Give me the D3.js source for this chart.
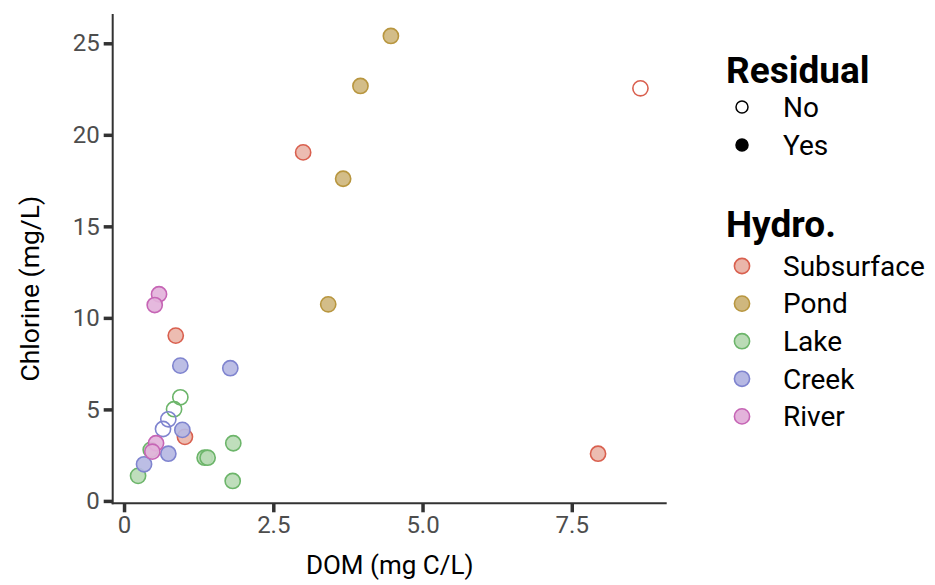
<!DOCTYPE html>
<html>
<head>
<meta charset="utf-8">
<script src="https://cdn.jsdelivr.net/npm/d3@7"></script>
<style>
  html, body { margin: 0; padding: 0; background: #fff; }
  svg text { font-family: Roboto, "Noto Sans", sans-serif; }
</style>
</head>
<body>
<svg id="chart" width="935" height="585"></svg>
<script>
// Hydrologic categories and their colours
const hydroTypes   = ["Subsurface", "Pond", "Lake", "Creek", "River"];
const hydroStroke  = ["#d9604f", "#b8963f", "#6cb56a", "#7f84cf", "#c665b5"];
const hydroFill    = ["#eab6aa", "#cfb77e", "#badbb6", "#b6b8e3", "#e3b3db"];

// Samples: DOM (mg C/L), chlorine (mg/L), hydro type, residual flag
const domValues = [
  0.866, 1.02, 3.00, 7.94, 8.65,
  4.47, 3.96, 3.67, 3.42,
  0.943, 0.838, 0.235, 1.35, 1.40, 1.83, 1.82, 0.447,
  0.742, 0.653, 0.943, 1.78, 0.977, 0.742, 0.335,
  0.586, 0.514, 0.536, 0.474
];
const chlorineValues = [
  9.03, 3.50, 19.04, 2.58, 22.54,
  25.40, 22.67, 17.60, 10.74,
  5.66, 5.01, 1.37, 2.36, 2.36, 3.15, 1.09, 2.79,
  4.46, 3.93, 7.39, 7.25, 3.88, 2.58, 2.00,
  11.29, 10.70, 3.15, 2.69
];
const hydroOf = [
  "Subsurface", "Subsurface", "Subsurface", "Subsurface", "Subsurface",
  "Pond", "Pond", "Pond", "Pond",
  "Lake", "Lake", "Lake", "Lake", "Lake", "Lake", "Lake", "Lake",
  "Creek", "Creek", "Creek", "Creek", "Creek", "Creek", "Creek",
  "River", "River", "River", "River"
];
const residualOf = [
  "Yes", "Yes", "Yes", "Yes", "No",
  "Yes", "Yes", "Yes", "Yes",
  "No", "No", "Yes", "Yes", "Yes", "Yes", "Yes", "Yes",
  "No", "No", "Yes", "Yes", "Yes", "Yes", "Yes",
  "Yes", "Yes", "Yes", "Yes"
];
const residualLevels = ["No", "Yes"];

const xTicks = [0, 2.5, 5, 7.5];
const xTickLabels = ["0", "2.5", "5.0", "7.5"];
const yTicks = [0, 5, 10, 15, 20, 25];
const xDomain = [-0.19, 9.09];
const yDomain = [-0.13, 26.6];

const rows = domValues.map((d, i) => ({
  dom: d, cl: chlorineValues[i], hydro: hydroOf[i], residual: residualOf[i]
}));

const svg = d3.select("#chart");
const panel = { left: 112.7, right: 666.7, top: 14, bottom: 503.3 };

const x = d3.scaleLinear().domain(xDomain).range([panel.left, panel.right]);
const y = d3.scaleLinear().domain(yDomain).range([panel.bottom, panel.top]);
const stroke = d3.scaleOrdinal().domain(hydroTypes).range(hydroStroke);
const fill = d3.scaleOrdinal().domain(hydroTypes).range(hydroFill);

// Axes
const xAxis = svg.append("g")
  .attr("transform", `translate(0,${panel.bottom})`)
  .call(d3.axisBottom(x).tickValues(xTicks)
    .tickFormat((d, i) => xTickLabels[i]).tickSizeOuter(0).tickSize(9).tickPadding(4));
const yAxis = svg.append("g")
  .attr("transform", `translate(${panel.left},0)`)
  .call(d3.axisLeft(y).tickValues(yTicks).tickSizeOuter(0).tickSize(9).tickPadding(4));

[xAxis, yAxis].forEach(g => {
  g.select(".domain").attr("stroke", "#333").attr("stroke-width", 2);
  g.selectAll(".tick line").attr("stroke", "#333").attr("stroke-width", 3.5);
  g.selectAll(".tick text").attr("fill", "#4d4d4d").attr("font-size", 24);
});
// extend the axis lines so they meet at the corner
xAxis.select(".domain").attr("d", `M${panel.left - 1},0H${panel.right}`);
yAxis.select(".domain").attr("d", `M0,${panel.top}V${panel.bottom + 1}`);

// Axis titles
svg.append("text")
  .attr("x", (panel.left + panel.right) / 2).attr("y", 574)
  .attr("text-anchor", "middle").attr("font-size", 26).attr("fill", "#000")
  .text("DOM (mg C/L)");
svg.append("text")
  .attr("transform", `translate(39,${(panel.top + panel.bottom) / 2 + 30}) rotate(-90)`)
  .attr("text-anchor", "middle").attr("font-size", 26.5).attr("fill", "#000")
  .text("Chlorine (mg/L)");

// Points
svg.append("g").selectAll("circle").data(rows).join("circle")
  .attr("cx", d => x(d.dom))
  .attr("cy", d => y(d.cl))
  .attr("r", 7.6)
  .attr("fill", d => d.residual === "Yes" ? fill(d.hydro) : "none")
  .attr("fill-opacity", 0.92)
  .attr("stroke", d => stroke(d.hydro))
  .attr("stroke-width", 1.6);

// Legend: residual
const lg = svg.append("g");
lg.append("text").attr("x", 726).attr("y", 83)
  .attr("font-size", 37).attr("font-weight", "bold").attr("fill", "#000").text("Residual");
residualLevels.forEach((lvl, i) => {
  const cy = 107 + i * 38;
  lg.append("circle").attr("cx", 742).attr("cy", cy).attr("r", 6)
    .attr("fill", lvl === "Yes" ? "#000" : "#fff").attr("stroke", "#000").attr("stroke-width", 1.5);
  lg.append("text").attr("x", 783).attr("y", cy).attr("dy", "0.35em")
    .attr("font-size", 28).attr("fill", "#000").text(lvl);
});

// Legend: hydro type
lg.append("text").attr("x", 726).attr("y", 237)
  .attr("font-size", 37).attr("font-weight", "bold").attr("fill", "#000").text("Hydro.");
hydroTypes.forEach((h, i) => {
  const cy = 266 + i * 37.6;
  lg.append("circle").attr("cx", 742).attr("cy", cy).attr("r", 7.6)
    .attr("fill", fill(h)).attr("stroke", stroke(h)).attr("stroke-width", 1.6);
  lg.append("text").attr("x", 783).attr("y", cy).attr("dy", "0.35em")
    .attr("font-size", 28).attr("fill", "#000").text(h);
});
</script>
</body>
</html>
